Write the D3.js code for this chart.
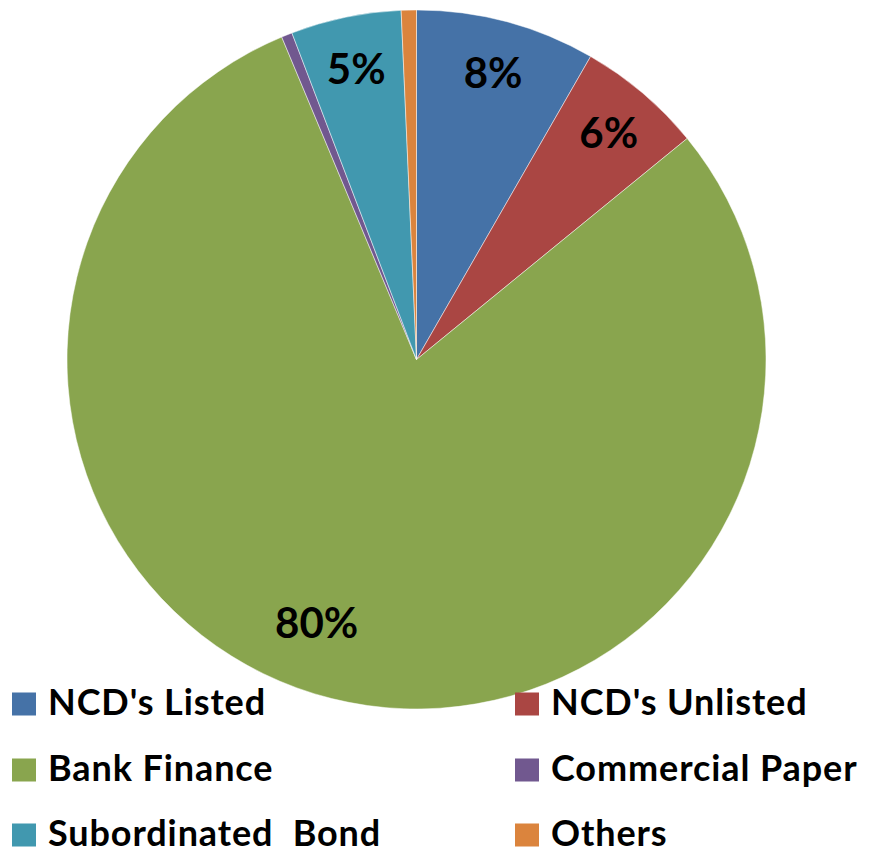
<!DOCTYPE html>
<html>
<head>
<meta charset="utf-8">
<script src="https://cdn.jsdelivr.net/npm/d3@7"></script>
<style>
  html, body { margin: 0; padding: 0; background: #fff; }
  svg { display: block; }
  text { font-family: "Lato", "Open Sans", sans-serif; font-weight: 700; fill: #000; }
</style>
</head>
<body>
<svg id="chart" width="876" height="852"></svg>
<script>
// Funding mix (percent of total borrowings)
const categories = ["NCD's Listed", "NCD's Unlisted", "Bank Finance", "Commercial Paper", "Subordinated  Bond", "Others"];
const shares = [8.3, 5.8, 79.6, 0.5, 5.1, 0.7];
const colors = ["#4572A7", "#AA4643", "#89A54E", "#71588F", "#4198AF", "#DB843D"];
// slices whose percentage is printed on the pie
const labelled = [true, true, true, false, true, false];

const data = categories.map((c, i) => ({ name: c, value: shares[i], show: labelled[i] }));

const svg = d3.select("#chart");
const cx = 416.5, cy = 359.5, R = 349.5;

const color = d3.scaleOrdinal().domain(categories).range(colors);
const pie = d3.pie().value(d => d.value).sort(null);
const arc = d3.arc().innerRadius(0).outerRadius(R);

const g = svg.append("g").attr("transform", `translate(${cx},${cy})`);
const arcs = pie(data);

g.selectAll("path.slice")
  .data(arcs)
  .join("path")
  .attr("class", "slice")
  .attr("d", arc)
  .attr("fill", d => color(d.data.name))
  .attr("stroke", "#ffffff")
  .attr("stroke-opacity", 0.6)
  .attr("stroke-width", 0.8);

// Percentage labels sit inside each slice; the dominant slice's label is
// swung a little further round and pulled inward, as the best-fit layout does.
const maxVal = d3.max(shares);
function labelPos(d) {
  const big = d.data.value === maxVal;
  const a = (d.startAngle + d.endAngle) / 2 + (big ? 0.118 : 0);
  const r = R * (big ? 0.805 : 0.85);
  return [r * Math.sin(a), -r * Math.cos(a)];
}

g.selectAll("text.pct")
  .data(arcs.filter(d => d.data.show))
  .join("text")
  .attr("class", "pct")
  .attr("transform", d => `translate(${labelPos(d)})`)
  .attr("text-anchor", "middle")
  .attr("dy", "0.36em")
  .style("font-size", "42px")
  .text(d => Math.round(d.data.value) + "%");

// Legend: two columns, three rows
const legend = svg.append("g");
const colX = [12, 515], rowY = [715, 781, 846];
const items = legend.selectAll("g.item")
  .data(categories)
  .join("g")
  .attr("class", "item")
  .attr("transform", (d, i) => `translate(${colX[i % 2]},${rowY[Math.floor(i / 2)]})`);

items.append("rect")
  .attr("x", 0).attr("y", -22.5)
  .attr("width", 24).attr("height", 23)
  .attr("fill", d => color(d));

items.append("text")
  .attr("x", 36)
  .attr("y", 0)
  .style("font-size", "36px")
  .style("letter-spacing", "0.9px")
  .style("white-space", "pre")
  .attr("xml:space", "preserve")
  .text(d => d);
</script>
</body>
</html>
